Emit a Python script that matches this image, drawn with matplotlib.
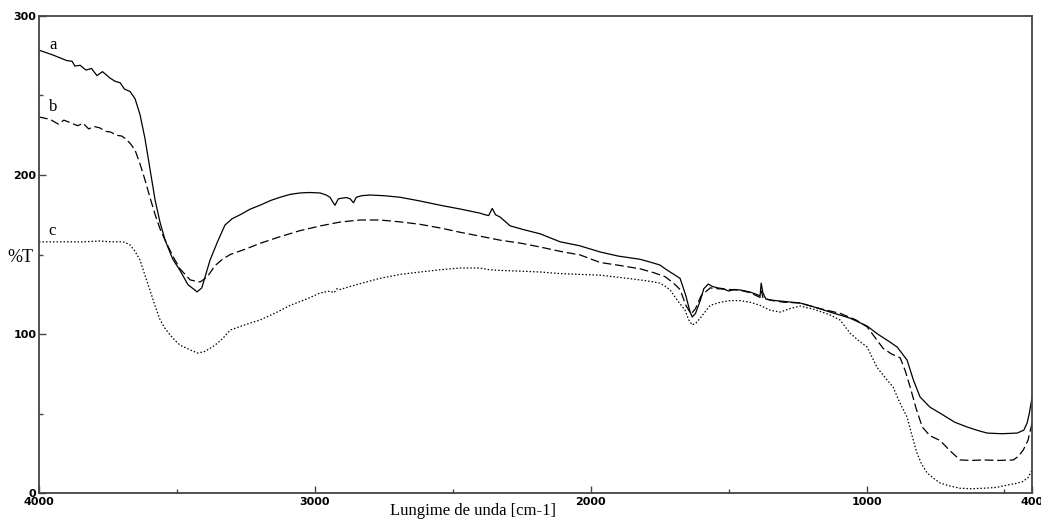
import matplotlib.pyplot as plt

# FTIR spectra (wavenumber cm-1, %T)
wave_a = [4000, 3950, 3900, 3880, 3870, 3851, 3830, 3810, 3790, 3770, 3743, 3725,
          3706, 3690, 3670, 3652, 3634, 3616, 3598, 3579, 3561, 3543, 3515, 3489,
          3460, 3434, 3427, 3410, 3380, 3353, 3326, 3300, 3271, 3235, 3199, 3160,
          3126, 3090, 3054, 3020, 2981, 2960, 2945, 2935, 2927, 2915, 2900, 2885,
          2872, 2860, 2850, 2830, 2800, 2750, 2691, 2620, 2546, 2470, 2401, 2383,
          2370, 2357, 2345, 2328, 2292, 2240, 2183, 2111, 2040, 1966, 1900, 1821,
          1780, 1749, 1730, 1712, 1694, 1676, 1655, 1640, 1632, 1620, 1603, 1590,
          1574, 1560, 1540, 1520, 1500, 1480, 1458, 1422, 1400, 1386, 1382, 1376,
          1365, 1350, 1300, 1241, 1190, 1132, 1060, 998, 960, 920, 889, 853,
          830, 806, 770, 722, 680, 635, 600, 563, 510, 454, 430, 418, 410, 400]
trans_a = [278.5, 275.5, 272.0, 271.5, 268.5, 269.0, 266.0, 267.0, 262.5, 265.0, 261.0, 259.0,
           258.0, 254.0, 252.5, 248.0, 238.0, 223.0, 204.0, 184.0, 170.0, 159.0, 147.0, 140.0,
           131.0, 127.5, 126.5, 129.0, 146.5, 158.0, 168.5, 172.5, 175.0, 178.5, 181.0, 184.0,
           186.0, 187.8, 188.7, 189.0, 188.7, 187.5, 186.0, 183.0, 181.0, 185.0, 185.5, 185.8,
           185.0, 182.5, 186.0, 187.0, 187.4, 187.0, 186.0, 183.7, 181.0, 178.5, 176.0, 175.0,
           174.5, 179.0, 175.0, 173.5, 168.0, 165.5, 163.0, 158.0, 155.5, 151.6, 149.0, 147.0,
           145.0, 143.4, 141.0, 139.0, 137.0, 135.0, 124.0, 114.0, 110.7, 113.0, 121.0, 128.5,
           131.4, 130.0, 129.0, 128.5, 127.0, 128.0, 127.7, 126.4, 125.0, 124.0, 132.0, 126.0,
           122.0, 121.4, 120.5, 119.5, 117.0, 113.8, 110.0, 105.0, 100.0, 95.5, 91.8, 83.6,
           71.0, 60.4, 54.0, 49.0, 44.5, 41.5, 39.5, 37.7, 37.3, 37.7, 39.5, 44.0, 50.0, 60.0]

wave_b = [4000, 3960, 3930, 3910, 3888, 3860, 3840, 3820, 3800, 3779, 3760, 3740,
          3720, 3700, 3688, 3670, 3652, 3634, 3616, 3598, 3579, 3561, 3543, 3515,
          3489, 3452, 3416, 3390, 3362, 3335, 3307, 3250, 3199, 3130, 3054, 2980,
          2909, 2836, 2764, 2690, 2619, 2540, 2474, 2400, 2328, 2250, 2183, 2111,
          2038, 1966, 1890, 1821, 1770, 1730, 1700, 1676, 1655, 1636, 1620, 1600,
          1567, 1540, 1500, 1458, 1422, 1386, 1381, 1375, 1340, 1300, 1241, 1170,
          1096, 1040, 998, 970, 940, 910, 878, 860, 842, 820, 798, 770, 733, 700,
          661, 620, 577, 520, 468, 450, 432, 415, 400]
trans_b = [236.5, 235.0, 232.0, 234.5, 233.0, 231.0, 232.5, 229.0, 230.5, 229.6, 227.5, 227.0,
           225.0, 224.5, 223.0, 220.0, 215.7, 207.0, 197.0, 186.0, 175.0, 166.0, 159.0, 149.0,
           141.0, 134.0, 132.7, 136.0, 143.0, 147.0, 150.0, 153.5, 157.0, 161.0, 165.0, 168.0,
           170.4, 171.7, 171.7, 170.5, 169.0, 166.5, 164.0, 161.5, 159.0, 157.0, 154.7, 152.0,
           149.7, 145.0, 143.0, 141.0, 138.5, 136.0, 132.0, 128.0, 118.0, 112.6, 116.0, 124.0,
           129.0, 128.5, 128.0, 127.5, 126.0, 123.0, 127.0, 122.5, 121.0, 120.0, 119.5, 116.0,
           113.0, 109.0, 104.5, 98.0, 91.0, 87.5, 85.0, 77.0, 66.7, 53.0, 41.5, 36.0, 33.0, 27.0,
           20.8, 20.5, 20.8, 20.5, 20.8, 23.0, 27.0, 33.0, 44.0]

wave_c = [4000, 3900, 3851, 3800, 3779, 3740, 3706, 3690, 3670, 3652, 3634, 3616,
          3598, 3580, 3561, 3543, 3525, 3507, 3489, 3470, 3452, 3424, 3400, 3380,
          3362, 3335, 3307, 3250, 3199, 3140, 3090, 3030, 2981, 2945, 2930, 2920,
          2909, 2840, 2764, 2690, 2619, 2540, 2474, 2401, 2370, 2328, 2250, 2183,
          2111, 2040, 1966, 1890, 1821, 1780, 1749, 1730, 1712, 1685, 1658, 1645,
          1632, 1618, 1603, 1585, 1567, 1530, 1495, 1460, 1422, 1386, 1350, 1313,
          1277, 1241, 1190, 1132, 1096, 1060, 1030, 998, 962, 930, 904, 880,
          853, 835, 817, 800, 780, 755, 733, 700, 661, 620, 577, 530, 490, 460,
          436, 415, 400]
trans_c = [157.9, 158.0, 157.9, 158.3, 158.5, 158.0, 158.0, 157.8, 156.0, 152.0, 146.5, 137.0,
           127.7, 118.0, 108.8, 103.5, 99.4, 96.0, 93.0, 91.5, 90.0, 88.0, 89.0, 91.0,
           93.0, 97.0, 102.5, 106.0, 108.8, 113.5, 118.0, 122.0, 125.8, 127.0, 126.0, 128.5,
           128.0, 131.5, 135.0, 137.5, 139.0, 140.5, 141.5, 141.5, 140.5, 140.0, 139.5, 139.0,
           138.0, 137.5, 137.0, 135.5, 134.0, 133.0, 132.0, 130.0, 127.7, 121.0, 115.0, 109.0,
           105.7, 107.0, 110.0, 114.0, 118.0, 120.0, 121.0, 121.0, 120.0, 118.0, 115.0, 113.8,
           116.0, 117.6, 115.5, 112.0, 108.8, 100.6, 96.0, 91.8, 79.0, 72.0, 66.7, 57.0,
           47.8, 36.0, 25.0, 18.0, 12.6, 9.0, 6.3, 4.5, 3.0, 2.7, 3.0, 3.5, 5.0, 6.0,
           7.0, 9.5, 14.5]

series_labels = ["a", "b", "c"]
label_x = [3964, 3964, 3966]
label_y = [281.8, 242.8, 164.8]

x_ticks = [4000, 3000, 2000, 1000, 400]
x_minor = [3500, 2500, 1500, 500]
y_ticks = [0, 100, 200, 300]
y_minor = [50, 150, 250]

fig = plt.figure(figsize=(10.41, 5.21), dpi=100)
ax = fig.add_axes([0.0375, 0.0537, 0.9539, 0.9156])

ax.plot(wave_a, trans_a, color="black", lw=0.9, ls="-")
ax.plot(wave_b, trans_b, color="black", lw=0.9, dashes=(7, 3))
ax.plot(wave_c, trans_c, color="black", lw=0.9, dashes=(1.2, 1.6))

for lab, lx, ly in zip(series_labels, label_x, label_y):
    ax.text(lx, ly, lab, family="Liberation Serif", fontsize=12, ha="left", va="center")

ax.set_xlim(4000, 400)
ax.set_ylim(0, 300)

ax.set_xticks(x_ticks)
ax.set_xticks(x_minor, minor=True)
ax.set_yticks(y_ticks)
ax.set_yticks(y_minor, minor=True)
ax.set_xticklabels([str(v) for v in x_ticks], fontsize=8, fontweight="bold", family="DejaVu Sans")
ax.set_yticklabels([str(v) for v in y_ticks], fontsize=8, fontweight="bold", family="DejaVu Sans")
ax.tick_params(axis="both", which="major", direction="in", length=5, width=1, pad=2, color="#444444")
ax.tick_params(axis="both", which="minor", direction="in", length=3, width=1, color="#444444")
ax.tick_params(axis="x", which="major", pad=3)

for sp in ax.spines.values():
    sp.set_color("#444444")
    sp.set_linewidth(1.3)

fig.text(473 / 1041, 1 - 511 / 521, "Lungime de unda [cm-1]", family="Liberation Serif",
         fontsize=12, ha="center", va="center")
fig.text(20 / 1041, 1 - 258 / 521, "%T", family="Liberation Serif", fontsize=13,
         ha="center", va="center")

fig.savefig("out.png", dpi=100)
